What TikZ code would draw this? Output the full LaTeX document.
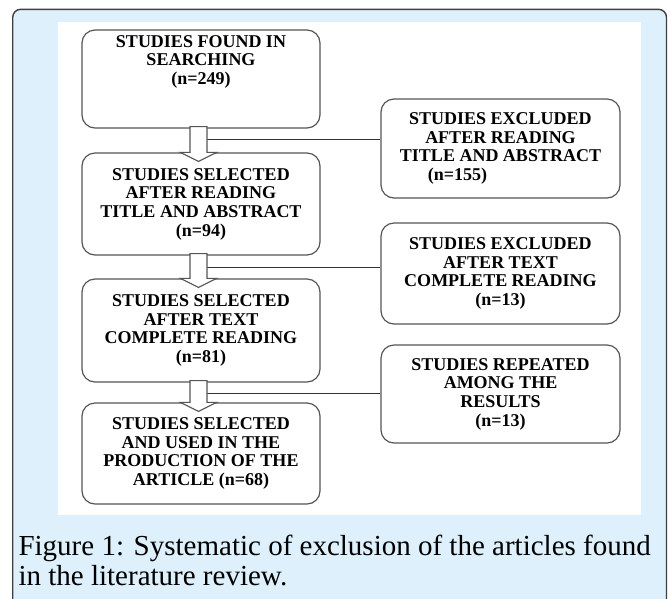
\documentclass[tikz,border=0pt]{standalone}
\usepackage{fontspec}
\setmainfont{Liberation Serif}
\usetikzlibrary{calc}
\definecolor{capblue}{HTML}{DEF0FB}
\definecolor{boxline}{HTML}{555555}
\newcommand\downarrowbox[2]{%
	\draw[arrowbox] ([xshift=-11pt,yshift=2pt]#1.south) -- ([xshift=-11pt]#2.north)
	-- ([xshift=-20.5pt]#2.north) -- ([xshift=-2.5pt,yshift=-9pt]#2.north)
	-- ([xshift=15.5pt]#2.north) -- ([xshift=6pt]#2.north)
	-- ([xshift=6pt,yshift=2pt]#1.south) -- cycle;}
\begin{document}
\begin{tikzpicture}[x=1pt,y=-1pt,line join=miter,font=\bfseries\fontsize{18}{18.7}\selectfont]
			\tikzset{box/.style={draw=boxline,line width=1.2pt,rounded corners=13pt,fill=white,
					align=center,inner sep=0pt,minimum width=238pt},
				rbox/.style={box,minimum width=239pt},
				arrowbox/.style={draw=boxline,line width=1.1pt,fill=white},
				link/.style={draw=black!80,line width=0.9pt}}
			\useasboundingbox (0,0) rectangle (668,598);
			\clip (0,0) rectangle (668,598);
			\draw[fill=capblue,draw=black!75,line width=1.4pt,rounded corners=8pt] (12.7,9.3) rectangle (666.5,640);
			\fill[white] (58,22) rectangle (641,515);
			% left column
			\node[box,minimum height=98pt,text depth=38pt] (b1) at (201,79) {STUDIES FOUND IN\\SEARCHING\\(n=249)};
			\node[box,minimum height=102pt] (b2) at (201,204) {STUDIES SELECTED\\AFTER READING\\TITLE AND ABSTRACT\\(n=94)};
			\node[box,minimum height=103pt] (b3) at (201,330.5) {STUDIES SELECTED\\AFTER TEXT\\COMPLETE READING\\(n=81)};
			\node[box,minimum height=101pt] (b4) at (201,453.5) {STUDIES SELECTED\\AND USED IN THE\\PRODUCTION OF THE\\ARTICLE (n=68)};
			% right column
			\node[rbox,minimum height=99pt] (r1) at (500.5,148.5) {STUDIES EXCLUDED\\AFTER READING\\TITLE AND ABSTRACT\\(n=155)\hspace*{86pt}};
			\node[rbox,minimum height=101pt] (r2) at (500.5,273.5) {STUDIES EXCLUDED\\AFTER TEXT\\COMPLETE READING\\(n=13)};
			\node[rbox,minimum height=98pt] (r3) at (500.5,394) {STUDIES REPEATED\\AMONG THE\\RESULTS\\(n=13)};
			\coordinate (j1) at (207,139);
			\coordinate (j2) at (207,267);
			\coordinate (j3) at (207,393);
			\draw[link] (j1) -- (j1 -| r1.west);
			\draw[link] (j2) -- (j2 -| r2.west);
			\draw[link] (j3) -- (j3 -| r3.west);
			\downarrowbox{b1}{b2}
			\downarrowbox{b2}{b3}
			\downarrowbox{b3}{b4}
			\node[anchor=base west,align=left,font=\normalfont\fontsize{29}{30}\selectfont] (caption) at (15,585)
				{Figure 1: Systematic of exclusion of the articles found\\in the literature review.};
		\end{tikzpicture}
\end{document}
